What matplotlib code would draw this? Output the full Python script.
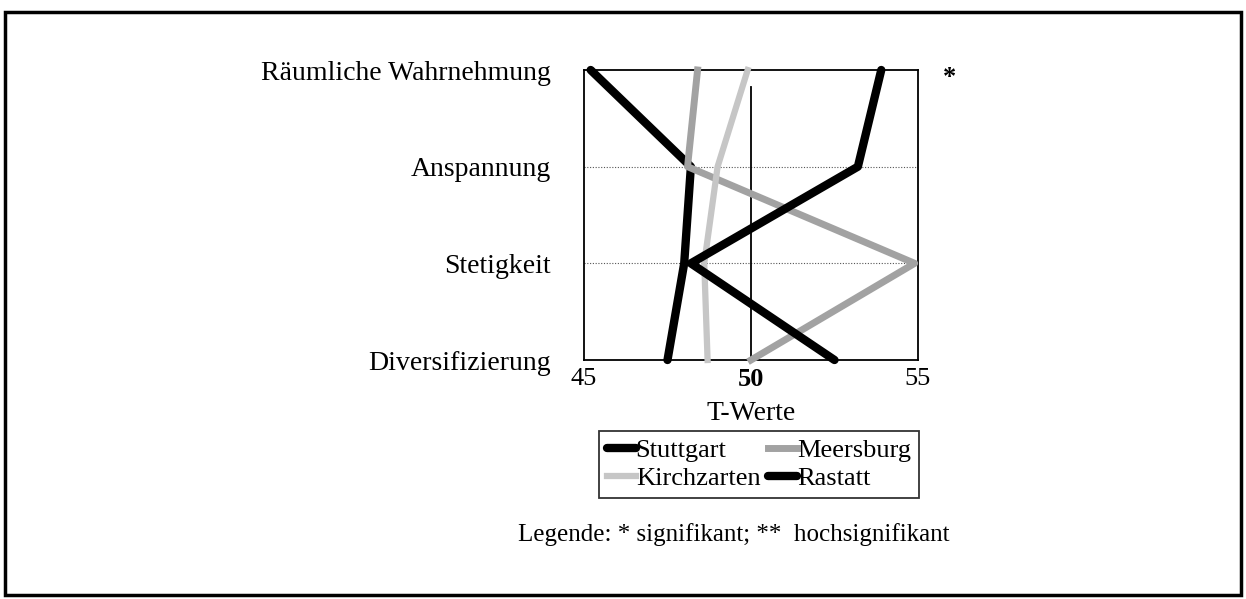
import numpy as np
import matplotlib.pyplot as plt
from matplotlib.patches import Rectangle
from matplotlib.lines import Line2D

plt.rcParams['font.family'] = ['Liberation Serif', 'DejaVu Serif']

# categories, top to bottom
categories = ["Räumliche Wahrnehmung", "Anspannung", "Stetigkeit", "Diversifizierung"]
stuttgart = [45.2, 48.2, 48.0, 47.5]
meersburg = [48.4, 48.1, 54.9, 50.0]
kirchzarten = [49.9, 49.0, 48.6, 48.7]
rastatt = [53.9, 53.2, 48.2, 52.5]
x_ticks = [45, 50, 55]
signif = ["*", "", "", ""]

fig = plt.figure(figsize=(12.46, 5.99), dpi=100)
ax = fig.add_axes([584 / 1246, 1 - 360 / 599, 334 / 1246, 290 / 599])

y = np.arange(len(categories))[::-1]

styles = {
    "Stuttgart": dict(color="black", lw=6, solid_capstyle="round"),
    "Meersburg": dict(color="#a2a2a2", lw=5),
    "Kirchzarten": dict(color="#c6c6c6", lw=4.5),
    "Rastatt": dict(color="black", lw=6, solid_capstyle="round"),
}

# drawing order as in the original: Stuttgart, Meersburg, Kirchzarten, Rastatt
for z, (name, vals) in enumerate([("Stuttgart", stuttgart), ("Meersburg", meersburg),
                                  ("Kirchzarten", kirchzarten), ("Rastatt", rastatt)]):
    ax.plot(vals, y, label=name, zorder=3 + z, clip_on=False, **styles[name])

ax.axvline(50, ymin=0, ymax=0.94, color="black", lw=1.3, zorder=2)
for yy in y[1:-1]:
    ax.axhline(yy, color="#555555", lw=0.8, ls=(0, (1, 1.5)), zorder=1)

ax.set_xlim(45, 55)
ax.set_ylim(0, 3)
ax.set_xticks(x_ticks)
ax.set_xticklabels([str(t) for t in x_ticks], fontsize=19)
for lab in ax.get_xticklabels():
    if lab.get_text() == "50":
        lab.set_fontweight("bold")
ax.set_yticks(y)
ax.set_yticklabels(categories, fontsize=20)
ax.tick_params(axis="both", length=0)
ax.tick_params(axis="y", pad=24)
ax.tick_params(axis="x", pad=6)
ax.set_xlabel("T-Werte", fontsize=20, labelpad=7)
for sp in ax.spines.values():
    sp.set_linewidth(1.3)

for yy, s in zip(y, signif):
    if s:
        ax.text(55.95, yy - 0.08, s, fontsize=19, fontweight="bold", ha="center", va="center")

# legend filled row-wise: Stuttgart, Meersburg / Kirchzarten, Rastatt
order = ["Stuttgart", "Kirchzarten", "Meersburg", "Rastatt"]
handles = [Line2D([], [], **styles[n]) for n in order]
leg = fig.legend(handles, order,
                 ncol=2, loc="upper center", bbox_to_anchor=(759 / 1246, 1 - 431 / 599),
                 fontsize=19, frameon=True, fancybox=False, edgecolor="black",
                 handlelength=1.1, handletextpad=0.0, columnspacing=0.3,
                 borderpad=0.3, labelspacing=0.15, borderaxespad=0)
leg.get_frame().set_linewidth(1.3)

fig.text(518 / 1246, 1 - 535 / 599, "Legende: * signifikant; **  hochsignifikant",
         fontsize=18, ha="left", va="center")

fig.patches.append(Rectangle((5 / 1246, 4 / 599), 1236 / 1246, 583 / 599,
                             transform=fig.transFigure, fill=False, edgecolor="black", lw=2.5))

fig.savefig("out.png", dpi=100)
